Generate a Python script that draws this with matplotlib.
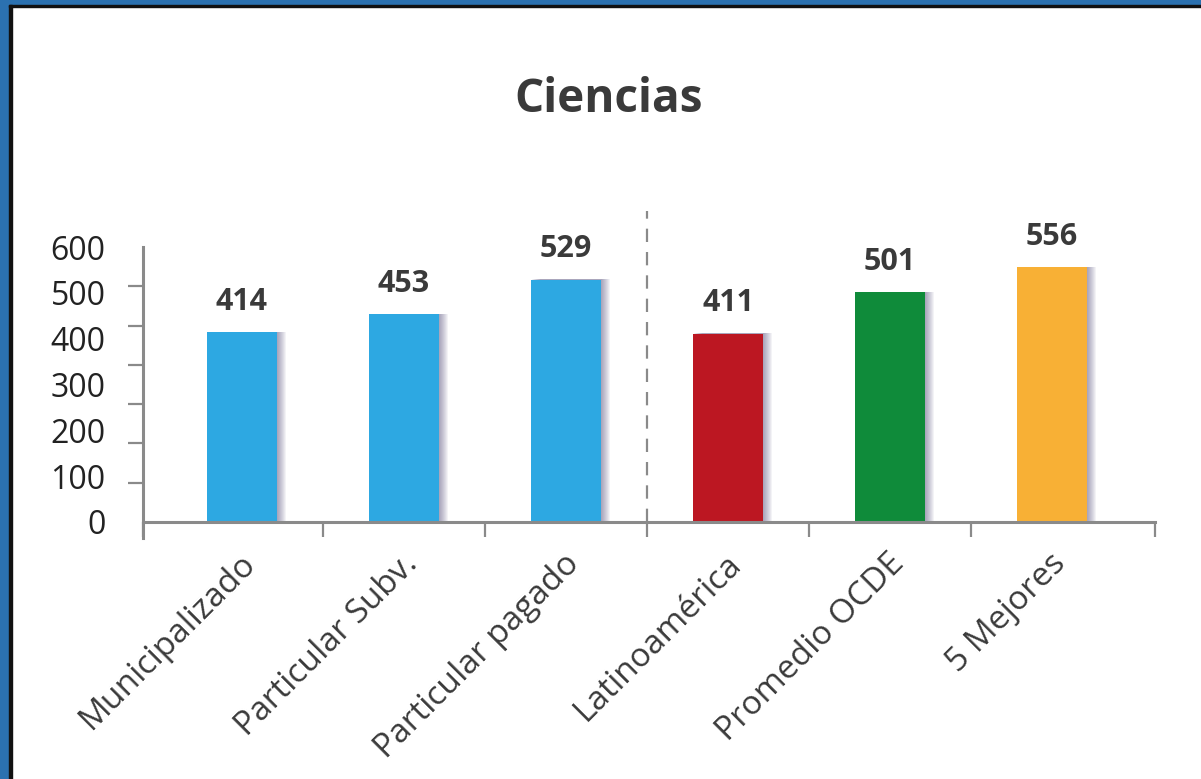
import matplotlib
matplotlib.use("Agg")
import matplotlib.pyplot as plt
from matplotlib.patches import Rectangle
from matplotlib.transforms import ScaledTranslation

plt.rcParams['font.family'] = ['Open Sans', 'DejaVu Sans']

# data
categories = ["Municipalizado", "Particular Subv.", "Particular pagado",
              "Latinoamérica", "Promedio OCDE", "5 Mejores"]
scores = [414, 453, 529, 411, 501, 556]
colors = ["#2DA8E2", "#2DA8E2", "#2DA8E2", "#BC1722", "#0F8B3A", "#F8B035"]
ylabels = [0, 100, 200, 300, 400, 500, 600]
n_marks = 7  # the axis tick marks don't line up with the labels in the original

W, H = 1201, 779
fig = plt.figure(figsize=(W / 100, H / 100), dpi=100)
fig.patch.set_facecolor("white")

def px(x0, y0, x1, y1):
    # pixel box (top-left origin) -> figure fraction rect
    return [x0 / W, 1 - y1 / H, (x1 - x0) / W, (y1 - y0) / H]

ax = fig.add_axes(px(143, 247, 1155, 522))
ax.set_xlim(-0.611, 5.636)
ax.set_ylim(0, 600)

grey = "#8a8a8a"
txt = "#3a3a3a"
bw = 0.43

# soft shadow behind bars (stacked translucent copies)
for k in range(1, 10):
    off = ScaledTranslation(k / 100, 0.5 / 100, fig.dpi_scale_trans)
    sh = ax.bar(range(len(scores)), scores, width=bw, color="#3c3466",
                alpha=0.06, zorder=1, linewidth=0)
    for p in sh:
        p.set_transform(ax.transData + off)

ax.bar(range(len(scores)), scores, width=bw, color=colors, zorder=2)

for i, v in enumerate(scores):
    ax.annotate(str(v), (i, v), xytext=(0, 22), textcoords="offset points",
                ha="center", va="center", fontsize=22, fontweight="bold",
                color=txt)

# dashed separator
ax.plot([2.5, 2.5], [0, 678], color=grey, lw=1.6, ls=(0, (6, 4.5)),
        clip_on=False, zorder=0)

for s in ["top", "right"]:
    ax.spines[s].set_visible(False)
ax.spines["left"].set_color(grey)
ax.spines["bottom"].set_color(grey)
ax.spines["left"].set_linewidth(2.2)
ax.spines["bottom"].set_linewidth(2.2)
ax.spines["left"].set_bounds(-35, 600)

ax.set_yticks(ylabels)
ax.set_yticklabels([str(t) for t in ylabels])
ax.set_yticks([k * 600 / n_marks for k in range(n_marks + 1)], minor=True)
ax.tick_params(axis="y", which="major", length=0, pad=27,
               labelsize=23, labelcolor="#222222")
ax.tick_params(axis="y", which="minor", length=11, width=1.6, color=grey)

ax.set_xticks([-0.611, 0.5, 1.5, 2.5, 3.5, 4.5, 5.636])
ax.set_xticklabels([])
ax.tick_params(axis="x", length=11, width=1.6, color=grey)

lab_off = ScaledTranslation(0.09, -0.37, fig.dpi_scale_trans)
for i, c in enumerate(categories):
    ax.text(i, 0, c, transform=ax.get_xaxis_transform() + lab_off,
            rotation=45, rotation_mode="anchor", ha="right", va="center",
            fontsize=24, color=txt)

fig.text(609 / W, 1 - 99 / H, "Ciencias", ha="center", va="center",
         fontsize=33, fontweight="bold", color=txt)

# frame
blue = "#2B71B0"
fig.patches.append(Rectangle((0, 0), 9 / W, 1, transform=fig.transFigure,
                             color=blue, zorder=5))
fig.patches.append(Rectangle((0, 1 - 5 / H), 1, 5 / H, transform=fig.transFigure,
                             color=blue, zorder=5))
fig.patches.append(Rectangle((9 / W, 0), 3 / W, 1 - 5 / H, transform=fig.transFigure,
                             color="#111111", zorder=5))
fig.patches.append(Rectangle((9 / W, 1 - 7 / H), 1, 2 / H, transform=fig.transFigure,
                             color="#111111", zorder=5))

fig.savefig("out.png", dpi=100)
